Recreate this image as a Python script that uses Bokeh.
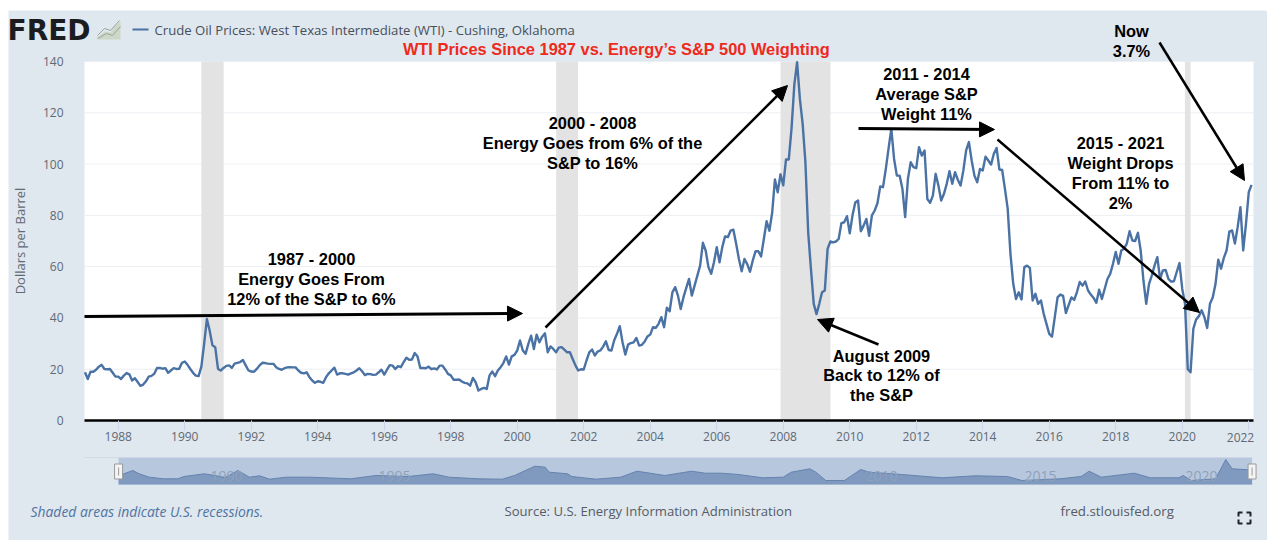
from bokeh.plotting import figure
from bokeh.models import Range1d, FixedTicker, Label, Arrow, NormalHead
from bokeh.embed import file_html
from bokeh.resources import INLINE

# ---- data (month-end WTI, $/bbl) ----
y1987 = [18.8,16.2,19.0,19.0,19.8,21.0,21.7,20.1,20.0,20.1,18.6,17.1]
y1988 = [17.1,16.2,17.5,18.5,18.0,15.6,16.5,15.0,13.5,14.0,15.3,17.1]
y1989 = [17.4,18.2,20.5,20.5,20.2,20.4,18.6,19.5,20.4,20.1,20.2,22.5]
y1990 = [23.0,21.7,20.1,18.6,17.5,17.3,21.0,29.9,39.6,35.0,29.3,28.6]
y1991 = [20.1,19.5,20.5,21.3,21.5,20.5,22.2,22.5,22.8,23.6,21.5,19.5]
y1992 = [19.1,19.0,20.1,21.5,22.5,22.4,22.2,22.1,22.1,20.8,20.1,19.8]
y1993 = [20.4,20.7,20.8,20.7,20.7,19.5,18.6,18.4,18.8,16.9,15.6,14.7]
y1994 = [15.3,15.1,14.7,16.9,18.4,19.5,20.6,17.9,18.4,18.4,18.2,17.9]
y1995 = [18.4,18.8,19.5,20.4,19.2,17.7,18.2,18.1,17.8,17.9,18.8,19.8]
y1996 = [17.9,19.8,21.6,21.4,20.1,21.2,20.8,22.8,24.5,23.7,23.8,26.3]
y1997 = [25.0,20.5,20.5,20.4,21.0,20.0,20.3,19.9,21.4,21.4,19.9,18.2]
y1998 = [17.6,15.9,15.9,16.0,15.2,14.7,14.5,13.6,16.6,14.9,11.7,12.3]
y1999 = [12.7,12.3,17.6,19.1,17.3,19.5,20.8,22.4,25.0,21.8,25.0,25.6]
y2000 = [27.3,31.2,27.3,26.0,29.9,33.1,27.9,33.5,30.5,32.7,34.0,26.6]
y2001 = [28.9,27.9,26.6,28.4,28.6,27.6,26.6,26.6,24.0,21.5,19.5,20.0]
y2002 = [19.9,23.4,26.6,27.7,25.3,26.9,27.3,28.8,30.9,27.5,27.3,31.3]
y2003 = [33.8,36.8,30.5,25.7,29.6,30.2,30.5,32.2,29.2,29.5,30.8,32.8]
y2004 = [33.5,36.4,36.1,37.7,40.3,36.4,44.0,42.6,50.0,52.0,48.7,43.5]
y2005 = [48.1,51.7,55.2,48.7,52.6,56.5,60.4,69.3,66.3,59.8,57.2,61.7]
y2006 = [67.6,61.7,67.6,71.8,71.5,74.0,74.4,68.9,63.0,58.2,63.0,61.0]
y2007 = [58.0,62.4,66.0,66.0,64.0,70.8,77.7,74.0,81.0,94.0,89.0,96.0]
y2008 = [91.7,101.8,101.8,114.0,131.0,139.7,125.4,115.7,100.7,73.4,59.0,45.5]
y2009 = [41.5,45.5,50.0,50.7,66.9,69.8,69.5,69.8,70.8,77.0,77.3,79.7]
y2010 = [73.0,80.0,85.0,85.8,73.8,76.0,78.6,72.0,80.0,81.9,84.7,91.3]
y2011 = [91.0,98.0,106.0,113.7,102.0,95.5,95.5,90.4,79.3,94.3,100.7,98.8]
y2012 = [98.4,106.6,103.3,105.3,86.4,84.9,87.7,96.2,91.6,85.8,88.4,92.3]
y2013 = [97.2,92.3,96.8,93.9,91.6,97.5,105.3,108.6,101.4,95.5,92.9,98.1]
y2014 = [97.5,102.9,101.4,99.8,104.0,106.3,97.9,97.7,90.4,82.6,65.0,53.3]
y2015 = [47.4,50.0,47.2,59.8,60.4,59.5,46.8,49.4,45.5,46.8,41.6,37.7]
y2016 = [33.8,32.7,40.3,48.0,49.1,48.6,41.9,45.0,48.0,47.0,50.1,54.0]
y2017 = [52.6,54.2,50.7,49.1,47.8,45.9,51.0,47.4,51.3,55.2,57.2,61.1]
y2018 = [65.7,61.1,66.3,67.0,69.0,73.8,70.2,70.0,73.2,66.3,54.6,45.5]
y2019 = [53.2,56.5,60.4,63.7,55.2,58.5,58.7,55.2,54.2,54.3,57.9,61.4]
y2020 = [51.3,45.5,20.0,18.8,35.7,39.4,40.7,43.0,40.3,36.1,45.5,48.0]
y2021 = [53.2,62.7,59.2,63.4,66.3,73.7,74.1,69.0,75.4,83.2,66.3,76.7]
y2022 = [89.0,91.9]
yearly = [y1987,y1988,y1989,y1990,y1991,y1992,y1993,y1994,y1995,y1996,y1997,y1998,
          y1999,y2000,y2001,y2002,y2003,y2004,y2005,y2006,y2007,y2008,y2009,y2010,
          y2011,y2012,y2013,y2014,y2015,y2016,y2017,y2018,y2019,y2020,y2021,y2022]
prices = [v for yr in yearly for v in yr]
dates = [1987 + i / 12 for i in range(len(prices))]

rec_start = [1990.50, 2001.17, 2007.92, 2020.08]
rec_end   = [1991.17, 2001.83, 2009.42, 2020.25]

year_ticks = list(range(1988, 2024, 2))
dollar_ticks = [0, 20, 40, 60, 80, 100, 120, 140]

nav_years = [1988.01,1988.11,1988.44,1988.63,1988.93,1989.36,1989.79,1989.98,1990.59,1990.96,1991.2,1991.6,
             1991.94,1992.25,1992.55,1993.05,1993.78,1995.0,1995.75,1996.72,1997.47,1997.95,1998.82,1999.55,
             1999.92,2000.53,2000.84,2000.96,2001.51,2001.64,2002.37,2003.11,2003.6,2004.44,2005.24,2005.66,
             2006.15,2006.65,2007.38,2008.0,2008.24,2008.8,2008.98,2009.28,2009.84,2010.33,2010.58,2011.56,
             2012.78,2013.77,2014.74,2015.18,2016.33,2016.96,2017.2,2017.56,2018.56,2019.04,2019.9,2020.03,
             2020.27,2021.0,2021.31,2021.5,2021.99,2022.1]
nav_vals = [9,10,14,10.7,7.3,5.7,5.7,8,10.7,8.7,6.7,14,
            7.3,8.7,5.3,7.3,7.3,5.7,9,8,10.7,7.3,5.7,5.3,
            9,18.3,17.3,12.3,10.7,8,5.3,7.3,13.3,9,13.3,11.3,
            11.3,10,6.7,7.3,12.3,15.7,12.3,4,4,15,12.3,10,
            6.7,8.7,8,4,5.7,8,13.3,7.3,11.3,6.7,6.7,9,
            4,5.7,25,15.7,14.7,12.3]

# (text, centre px x, centre px y)
notes = [("1987 - 2000",311,258),("Energy Goes From",311,278),("12% of the S&P to 6%",311,298),
         ("2000 - 2008",592,122),("Energy Goes from 6% of the",592,142),("S&P to 16%",592,162),
         ("2011 - 2014",926,73),("Average S&P",926,93),("Weight 11%",926,113),
         ("2015 - 2021",1120,142),("Weight Drops",1120,162),("From 11% to",1120,182),("2%",1120,202),
         ("August 2009",881,355),("Back to 12% of",881,374),("the S&P",881,394),
         ("Now",1131,30),("3.7%",1131,50)]
# (x0,y0,x1,y1,line width)
arrows = [(84,316,522,313,3),(545,327,787,85,2.5),(858,128,994,129,3),
          (997,139,1199,312,2.5),(1159,42,1244,180,2.5),(878,344,817,319,2.5)]

PANEL = "#dfe7ef"
LINE = "#4a72a4"
MAIN_FONT = "Open Sans"
NOTE_FONT = "Liberation Sans"
AXIS_TEXT = "#5f6a75"

# ---- pixel -> data helpers (chart area is 84..1253 x 61..420 in the page) ----
PX_YEAR = 33.25
PX_DOLLAR = 359 / 140
X0 = 1986.985
X1 = X0 + (1253 - 84) / PX_YEAR
xd = lambda px: X0 + (px - 84) / PX_YEAR
yd = lambda py: (420 - py) / PX_DOLLAR

p = figure(output_backend="svg", toolbar_location=None, width=1259, height=530,
           margin=(10, 0, 0, 8),
           min_border=0, min_border_left=0, min_border_right=0, min_border_top=0, min_border_bottom=0,
           x_range=Range1d(xd(8), xd(1267)), y_range=Range1d(yd(540), yd(10)),
           background_fill_color=PANEL, border_fill_color=PANEL, outline_line_color=None)

p.grid.visible = False

# white chart area and grid lines
p.quad(left=X0, right=X1, bottom=0, top=140, fill_color="white", line_color=None)
p.segment(x0=X0, x1=X1, y0=dollar_ticks, y1=dollar_ticks, line_color="#eceff3", line_width=1)

p.xaxis.fixed_location = 0
p.xaxis.bounds = (X0, X1)
p.xaxis.ticker = FixedTicker(ticks=year_ticks)
p.xaxis.major_label_overrides = {2022: ""}
p.xaxis.axis_line_color = "black"
p.xaxis.axis_line_width = 2.5
p.xaxis.major_tick_line_color = "#ccd6eb"
p.xaxis.major_tick_out = 10
p.xaxis.major_tick_in = 0
p.xaxis.minor_tick_line_color = None
p.xaxis.major_label_standoff = 1
p.xaxis.major_label_text_font = MAIN_FONT
p.xaxis.major_label_text_font_size = "12px"
p.xaxis.major_label_text_color = AXIS_TEXT

p.yaxis.fixed_location = X0
p.yaxis.bounds = (0, 140)
p.yaxis.ticker = FixedTicker(ticks=dollar_ticks)
p.yaxis.axis_line_color = None
p.yaxis.major_tick_line_color = None
p.yaxis.minor_tick_line_color = None
p.yaxis.major_label_standoff = 15
p.yaxis.major_label_text_font = MAIN_FONT
p.yaxis.major_label_text_font_size = "12px"
p.yaxis.major_label_text_color = AXIS_TEXT
p.yaxis.axis_label = "Dollars per Barrel"
p.yaxis.axis_label_text_font = MAIN_FONT
p.yaxis.axis_label_text_font_size = "13px"
p.yaxis.axis_label_text_font_style = "normal"
p.yaxis.axis_label_text_color = AXIS_TEXT
p.yaxis.axis_label_standoff = 11

p.quad(left=rec_start, right=rec_end, bottom=0, top=140, fill_color="#e3e3e3", line_color=None)
p.line(dates, prices, line_color=LINE, line_width=2.4, line_join="round")

for x0, y0, x1, y1, w in arrows:
    p.add_layout(Arrow(x_start=xd(x0), y_start=yd(y0), x_end=xd(x1), y_end=yd(y1),
                       line_color="black", line_width=w,
                       end=NormalHead(size=15, fill_color="black", line_color="black", line_width=1)))

def lab(text, x, y, size, color="black", font=NOTE_FONT, style="bold", align="center"):
    p.add_layout(Label(x=x, y=y, text=text, text_font=font, text_font_size=size,
                       text_font_style=style, text_color=color, text_align=align,
                       text_baseline="middle"))

for t, x, y in notes:
    lab(t, xd(x), yd(y), "16.4px")
lab("WTI Prices Since 1987 vs. Energy\u2019s S&P 500 Weighting", xd(616), yd(48), "16.4px", color="#ee2a1c")
lab("FRED", xd(7), yd(30), "28px", color="#1b1c1f", font="DejaVu Sans", align="left")
lab("Crude Oil Prices: West Texas Intermediate (WTI) - Cushing, Oklahoma", xd(154), yd(29.5), "13.15px",
    color="#474f59", font=MAIN_FONT, style="normal", align="left")
lab("2022", xd(1240), yd(437), "12px", color=AXIS_TEXT, font=MAIN_FONT, style="normal")

# legend key
p.segment(x0=xd(132), x1=xd(148), y0=yd(29), y1=yd(29), line_color=LINE, line_width=2)
# small logo chart
p.patch(x=[xd(v) for v in (97,104,110,115,120,120,97)], y=[yd(v) for v in (37,31,32,25,21,39,39)],
        fill_color="#cdd8c8", line_color=None)
p.line(x=[xd(v) for v in (97,104,110,119)], y=[yd(v) for v in (35,28,30,20)], line_color="#9aa39a", line_width=1)
p.line(x=[xd(v) for v in (97,106,112,120)], y=[yd(v) for v in (38,33,35,26)], line_color="#9aa39a", line_width=1)

# ---- navigator + footer ----
nav_base = yd(484)
nav_scaled = [nav_base + v / PX_DOLLAR for v in nav_vals]
p.quad(left=nav_years[0], right=nav_years[-1], bottom=nav_base, top=yd(457), fill_color="#b7c7de", line_color=None)
p.varea(x=nav_years, y1=nav_base, y2=nav_scaled, fill_color="#7f99bf")
p.line(nav_years, nav_scaled, line_color="#6583ae", line_width=1)
p.segment(x0=xd(84), x1=nav_years[0], y0=yd(457), y1=yd(457), line_color="#d3dae2", line_width=1)
p.rect(x=[nav_years[0], nav_years[-1]], y=yd(471), width=8, height=15, width_units="screen", height_units="screen",
       fill_color="#f4f4f4", line_color="#9a9a9a")
p.segment(x0=[nav_years[0], nav_years[-1]], x1=[nav_years[0], nav_years[-1]], y0=yd(467), y1=yd(475), line_color="#9a9a9a")

for t, x in [("1990", 226), ("1995", 394), ("2010", 881), ("2015", 1040), ("2020", 1201)]:
    lab(t, xd(x), yd(475), "14px", color="#8fa1ba", font=MAIN_FONT, style="normal")

lab("Shaded areas indicate U.S. recessions.", xd(30), yd(510.5), "13.9px", color="#4f74a0", font=MAIN_FONT,
    style="italic", align="left")
lab("Source: U.S. Energy Information Administration", xd(504), yd(510.5), "13.1px", color="#555c64",
    font=MAIN_FONT, style="normal", align="left")
lab("fred.stlouisfed.org", xd(1060), yd(510.5), "13.3px", color="#555c64", font=MAIN_FONT,
    style="normal", align="left")

# full-screen icon
cx0, cx1, cy0, cy1, a = 1238, 1250, 512, 523, 4
corner_xs = [[xd(cx0 + a), xd(cx0), xd(cx0)], [xd(cx1 - a), xd(cx1), xd(cx1)], [xd(cx0 + a), xd(cx0), xd(cx0)], [xd(cx1 - a), xd(cx1), xd(cx1)]]
corner_ys = [[yd(cy0), yd(cy0), yd(cy0 + a)], [yd(cy0), yd(cy0), yd(cy0 + a)], [yd(cy1), yd(cy1), yd(cy1 - a)], [yd(cy1), yd(cy1), yd(cy1 - a)]]
p.multi_line(corner_xs, corner_ys, line_color="#20242a", line_width=2)

open("out.html", "w").write(file_html(p, INLINE))
